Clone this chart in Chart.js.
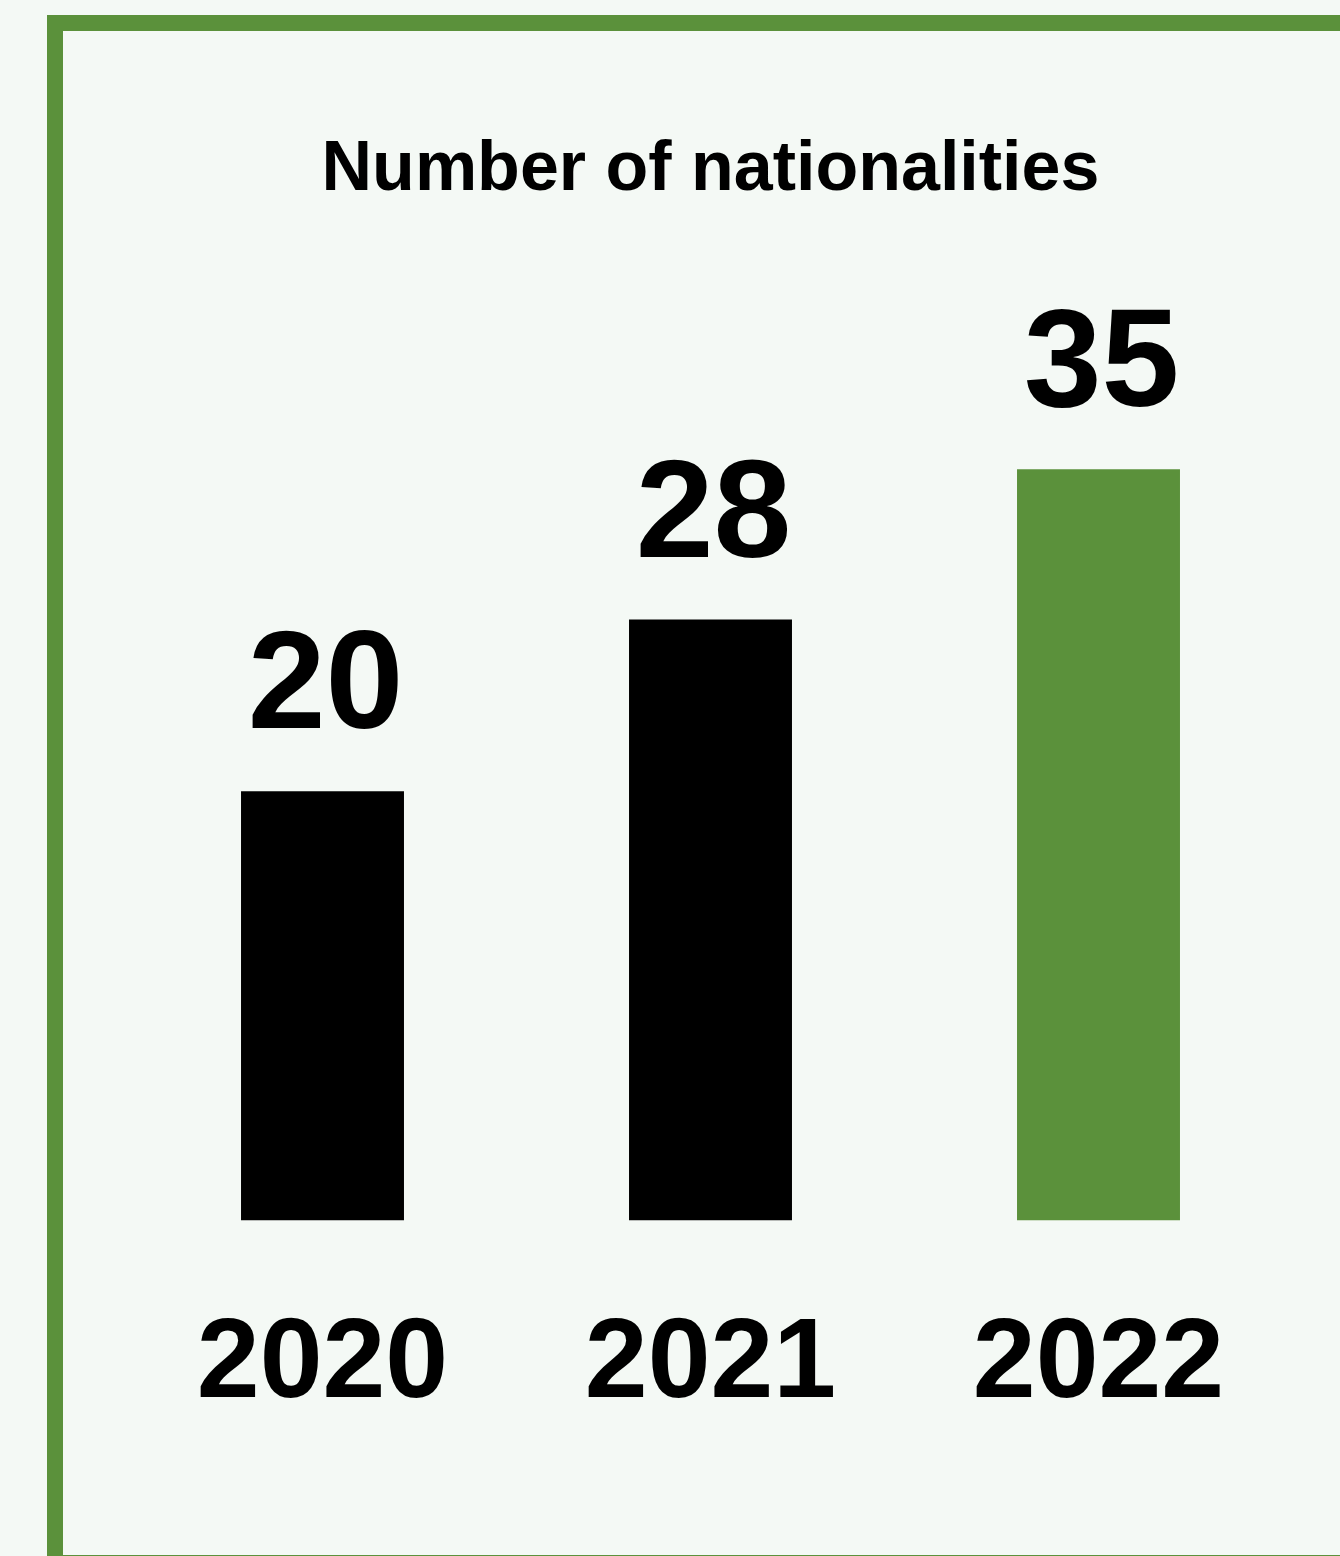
<!DOCTYPE html>
<html>
<head>
<meta charset="utf-8">
<title>Number of nationalities</title>
<script src="https://cdn.jsdelivr.net/npm/chart.js@4.4.1/dist/chart.umd.min.js"></script>
<style>
  html, body {
    margin: 0;
    padding: 0;
    width: 1340px;
    height: 1556px;
    overflow: hidden;
    background: #f4f9f5;
  }
  .frame {
    position: absolute;
    left: 47px;
    top: 15px;
    width: 1400px;
    height: 1556px;
    box-sizing: border-box;
    border: 16px solid #5b913b;
  }
  #chart {
    position: absolute;
    left: 0;
    top: 0;
  }
</style>
</head>
<body>
<div class="frame"></div>
<canvas id="chart" width="1340" height="1556"></canvas>
<script>
const years = ['2020', '2021', '2022'];
const nationalities = [20, 28, 35];

const GREEN = '#5b913b';
const FONT = '"Liberation Sans", Arial, Helvetica, sans-serif';

Chart.defaults.font.family = FONT;
Chart.defaults.color = '#000';

// numbers above each bar
const valueLabels = {
  id: 'valueLabels',
  afterDatasetsDraw(chart) {
    const ctx = chart.ctx;
    const meta = chart.getDatasetMeta(0);
    const data = chart.data.datasets[0].data;
    ctx.save();
    ctx.font = 'bold 140px ' + FONT;
    ctx.fillStyle = '#000';
    ctx.textAlign = 'center';
    ctx.textBaseline = 'alphabetic';
    meta.data.forEach((bar, i) => {
      ctx.fillText(String(data[i]), bar.x + 3, bar.y - 63);
    });
    ctx.restore();
  }
};

function initChart() {
  const ctx = document.getElementById('chart').getContext('2d');

  // eslint-disable-next-line no-unused-vars
  const chart = new Chart(ctx, {
    type: 'bar',
    data: {
      labels: years,
      datasets: [{
        data: nationalities,
        backgroundColor: (c) => c.dataIndex === years.length - 1 ? GREEN : '#000',
        borderWidth: 0,
        barPercentage: 0.42,
        categoryPercentage: 1
      }]
    },
    options: {
      responsive: false,
      animation: false,
      devicePixelRatio: 1,
      layout: {
        padding: { left: 128.5, right: 47.5, top: 0, bottom: 52 }
      },
      plugins: {
        legend: { display: false },
        tooltip: { enabled: false },
        title: {
          display: true,
          text: 'Number of nationalities',
          color: '#000',
          font: { size: 70, weight: 'bold' },
          padding: { top: 129, bottom: 149 }
        }
      },
      scales: {
        x: {
          grid: { display: false },
          border: { display: false },
          ticks: {
            color: '#000',
            padding: 70,
            font: { size: 113, weight: 'bold' }
          }
        },
        y: {
          display: false,
          min: 0,
          max: 40
        }
      }
    },
    plugins: [valueLabels]
  });
}

initChart();
</script>
</body>
</html>
